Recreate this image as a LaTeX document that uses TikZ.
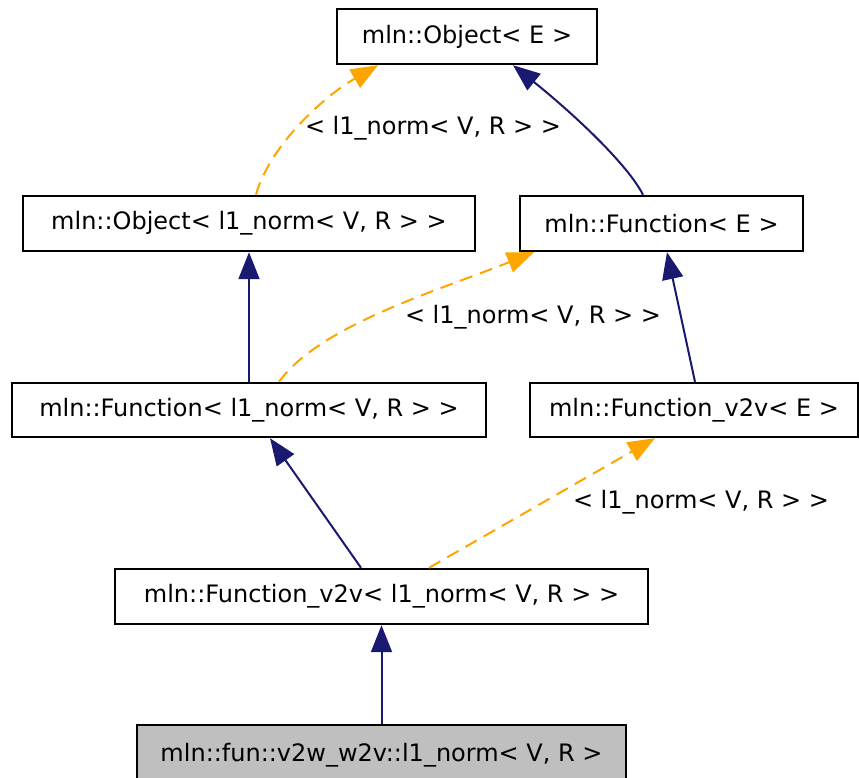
\documentclass[tikz,border=0pt]{standalone}
\usepackage{fontspec}
\setmainfont{DejaVu Sans}
\usetikzlibrary{arrows.meta}
\definecolor{navyedge}{HTML}{191970}
\definecolor{orangeedge}{HTML}{FFA500}
\definecolor{grayfill}{HTML}{BFBFBF}
\begin{document}
\begin{tikzpicture}[x=1pt,y=-1pt,
  cls/.style={draw=black,line width=2.4pt,fill=white,inner sep=0pt,minimum height=55pt,font=\fontsize{24pt}{28pt}\selectfont},
  lbl/.style={inner sep=0pt,font=\fontsize{24pt}{28pt}\selectfont},
  inh/.style={draw=navyedge,line width=2pt,-{Triangle[length=27pt,width=21pt]}},
  tpl/.style={draw=orangeedge,line width=2pt,dash pattern=on 13pt off 8pt,-{Triangle[length=27pt,width=21pt]}}]
\useasboundingbox (0,0) rectangle (859,778);
\node[cls,minimum width=260pt] (oE) at (467,36.5) {mln::Object< E >};
\node[cls,minimum width=452pt] (ol1) at (249,223.5) {mln::Object< l1\_norm< V, R > >};
\node[cls,minimum width=283pt] (fE) at (661.5,223.5) {mln::Function< E >};
\node[cls,minimum width=474pt,minimum height=54pt] (fl1) at (249,410) {mln::Function< l1\_norm< V, R > >};
\node[cls,minimum width=328pt,minimum height=54pt] (vE) at (694,410) {mln::Function\_v2v< E >};
\node[cls,minimum width=533pt] (vl1) at (381.5,596.5) {mln::Function\_v2v< l1\_norm< V, R > >};
\node[cls,fill=grayfill,minimum width=489pt,minimum height=56pt,text depth=0pt] (l1n) at (381.5,753) {\raisebox{2pt}{mln::fun::v2w\_w2v::l1\_norm< V, R >}};

\draw[inh] ([xshift=-18.5pt]fE.north) .. controls (628,165) and (575,115) .. ([xshift=46pt]oE.south);
\draw[tpl] ([xshift=7pt]ol1.north) .. controls (268,150) and (318,100) .. ([xshift=-89pt]oE.south);
\node[lbl] (lab1) at (433,128) {< l1\_norm< V, R > >};
\draw[inh] (fl1.north) -- (ol1.south);
\draw[tpl] ([xshift=30pt]fl1.north) .. controls (320,325) and (440,290) .. ([xshift=-127.5pt]fE.south);
\node[lbl] (lab2) at (533,317) {< l1\_norm< V, R > >};
\draw[inh] ([xshift=1pt]vE.north) -- ([xshift=5.5pt]fE.south);
\draw[inh] ([xshift=-20.5pt]vl1.north) -- ([xshift=21pt]fl1.south);
\draw[tpl] ([xshift=47.5pt]vl1.north) -- ([xshift=-39pt]vE.south);
\node[lbl] (lab3) at (701,502) {< l1\_norm< V, R > >};
\draw[inh] (l1n.north) -- (vl1.south);
\end{tikzpicture}
\end{document}
